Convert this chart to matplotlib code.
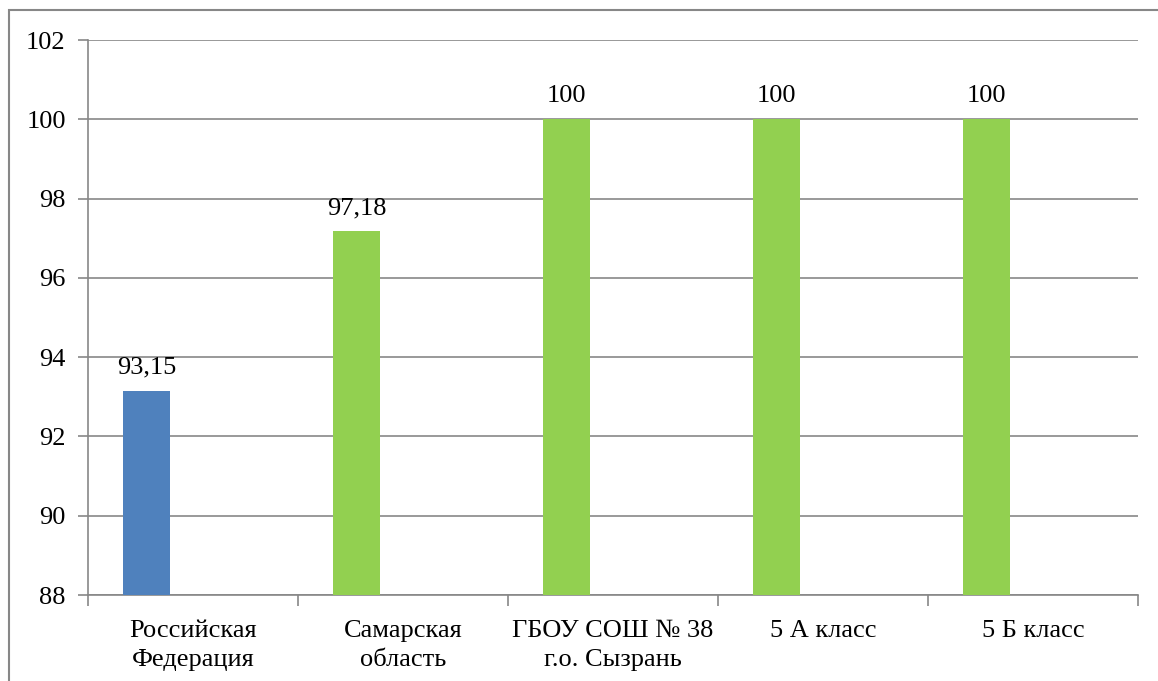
import numpy as np
import matplotlib as mpl
mpl.use('Agg')
import matplotlib.pyplot as plt
from matplotlib.patches import Rectangle

categories = ["Российская\nФедерация", "Самарская\nобласть", "ГБОУ СОШ № 38\nг.о. Сызрань",
              "5 А класс", "5 Б класс"]
values = [93.15, 97.18, 100, 100, 100]
value_labels = ["93,15", "97,18", "100", "100", "100"]
bar_colors = ["#4F81BD", "#92D050", "#92D050", "#92D050", "#92D050"]

mpl.rcParams['font.family'] = 'serif'
mpl.rcParams['font.serif'] = ['Liberation Serif', 'DejaVu Serif']
grey = "#878787"
fs = 19

fig = plt.figure(figsize=(11.58, 6.81), dpi=100)
ax = fig.add_axes([88/1158, 1-595/681, 1050/1158, 555/681])

x = np.arange(len(categories))
w = 0.224
ax.bar(x - 0.22, values, width=w, color=bar_colors, bottom=0, zorder=3)
for xi, v, lab in zip(x, values, value_labels):
    ax.annotate(lab, (xi - 0.22, v), xytext=(0, 12), textcoords='offset pixels',
                ha='center', va='bottom', fontsize=fs)

ax.set_ylim(88, 102)
ax.set_xlim(-0.5, len(categories) - 0.5)
ax.set_yticks(np.arange(88, 103, 2))
ax.set_yticklabels([str(t) for t in range(88, 103, 2)], fontsize=fs)
ax.yaxis.grid(True, color=grey, linewidth=1.2, zorder=0)

ax.set_xticks(np.arange(-0.5, len(categories), 1))
ax.set_xticklabels([])
ax.set_xticks(x, minor=True)
ax.set_xticklabels(categories, minor=True, fontsize=fs, linespacing=1.4)
ax.tick_params(axis='x', which='minor', length=0, pad=18)
ax.tick_params(axis='x', which='major', length=8, color=grey, width=1.2)
ax.tick_params(axis='y', length=7, color=grey, width=1.2, pad=9)

for s in ['top', 'right']:
    ax.spines[s].set_visible(False)
for s in ['left', 'bottom']:
    ax.spines[s].set_color(grey)
    ax.spines[s].set_linewidth(1.2)

fig.patches.append(Rectangle((9/1158, -0.01), 1.0, 1 - 10/681 + 0.01, transform=fig.transFigure,
                             fill=False, edgecolor=grey, linewidth=1.5))

plt.savefig("out.png", dpi=100)
